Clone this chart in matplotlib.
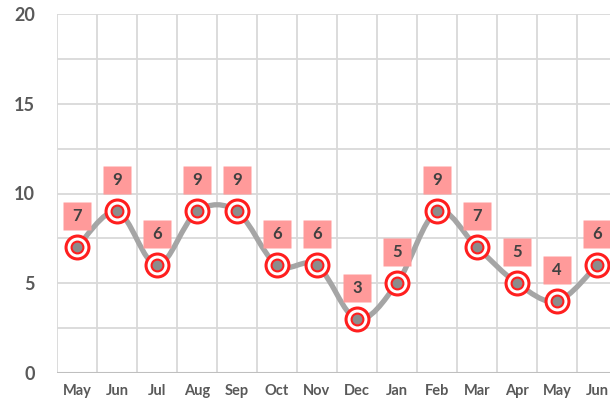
import numpy as np
import matplotlib
matplotlib.use('Agg')
import matplotlib.pyplot as plt
from matplotlib.path import Path
from matplotlib.patches import PathPatch
from matplotlib.transforms import offset_copy

# Data
months = ['May', 'Jun', 'Jul', 'Aug', 'Sep', 'Oct', 'Nov', 'Dec',
          'Jan', 'Feb', 'Mar', 'Apr', 'May', 'Jun']
values = [7, 9, 6, 9, 9, 6, 6, 3, 5, 9, 7, 5, 4, 6]
y_ticks = [0, 5, 10, 15, 20]

plt.rcParams['font.family'] = ['Lato', 'DejaVu Sans']

TEXT = '#595959'
GRID = '#d9d9d9'
LINE = '#a5a5a5'
RED = '#ff1f1f'
PINK = '#ff9a9a'

fig = plt.figure(figsize=(6.1, 4.04), dpi=100)
ax = fig.add_axes([57 / 610, 31 / 404, 560 / 610, 359 / 404])

x = np.arange(len(values))
ax.set_xlim(-0.5, len(values) - 0.5)
ax.set_ylim(0, 20)

# grid: vertical at category borders, horizontal every 2.5
for b in np.arange(-0.5, len(values), 1.0):
    ax.axvline(b, color=GRID, lw=1.3, zorder=0)
for g in np.arange(2.5, 20.1, 2.5):
    ax.axhline(g, color=GRID, lw=1.3, zorder=0)
ax.axhline(0, color='#bfbfbf', lw=1.5, zorder=1)

for s in ax.spines.values():
    s.set_visible(False)

# smoothed line (Catmull-Rom style bezier like Excel)
pts = np.column_stack([x, values]).astype(float)
verts = [pts[0]]
codes = [Path.MOVETO]
for i in range(len(pts) - 1):
    p0 = pts[i - 1] if i > 0 else pts[i]
    p1 = pts[i]
    p2 = pts[i + 1]
    p3 = pts[i + 2] if i + 2 < len(pts) else pts[i + 1]
    c1 = p1 + (p2 - p0) / 6.0
    c2 = p2 - (p3 - p1) / 6.0
    verts += [c1, c2, p2]
    codes += [Path.CURVE4] * 3
ax.add_patch(PathPatch(Path(verts, codes), fill=False, edgecolor=LINE,
                       lw=3.8, capstyle='round', joinstyle='round', zorder=2))

# markers: red ring, white gap, red ring round a grey dot
ax.plot(x, values, 'o', ms=16.5, mfc='white', mec=RED, mew=2.2, zorder=3)
ax.plot(x, values, 'o', ms=8.5, mfc='#8c8c8c', mec=RED, mew=1.5, zorder=4)

# data labels: pink boxes above each point
lab_tr = offset_copy(ax.transData, fig=fig, x=0, y=31, units='dots')
ax.plot(x, values, 's', ms=19.5, mfc=PINK, mec='none', transform=lab_tr,
        zorder=5, clip_on=False)
for xi, v in zip(x, values):
    ax.text(xi, v, str(v), transform=lab_tr, ha='center', va='center',
            fontsize=12, fontweight='bold', color='#404040', zorder=6)

ax.set_xticks(x)
ax.set_xticklabels(months, fontsize=10.5, fontweight='bold', color=TEXT)
ax.set_yticks(y_ticks)
ax.set_yticklabels([str(t) for t in y_ticks], fontsize=13,
                   fontweight='bold', color=TEXT)
ax.tick_params(length=0)
ax.tick_params(axis='y', pad=16)
ax.tick_params(axis='x', pad=8)

fig.savefig('out.png', dpi=100)
